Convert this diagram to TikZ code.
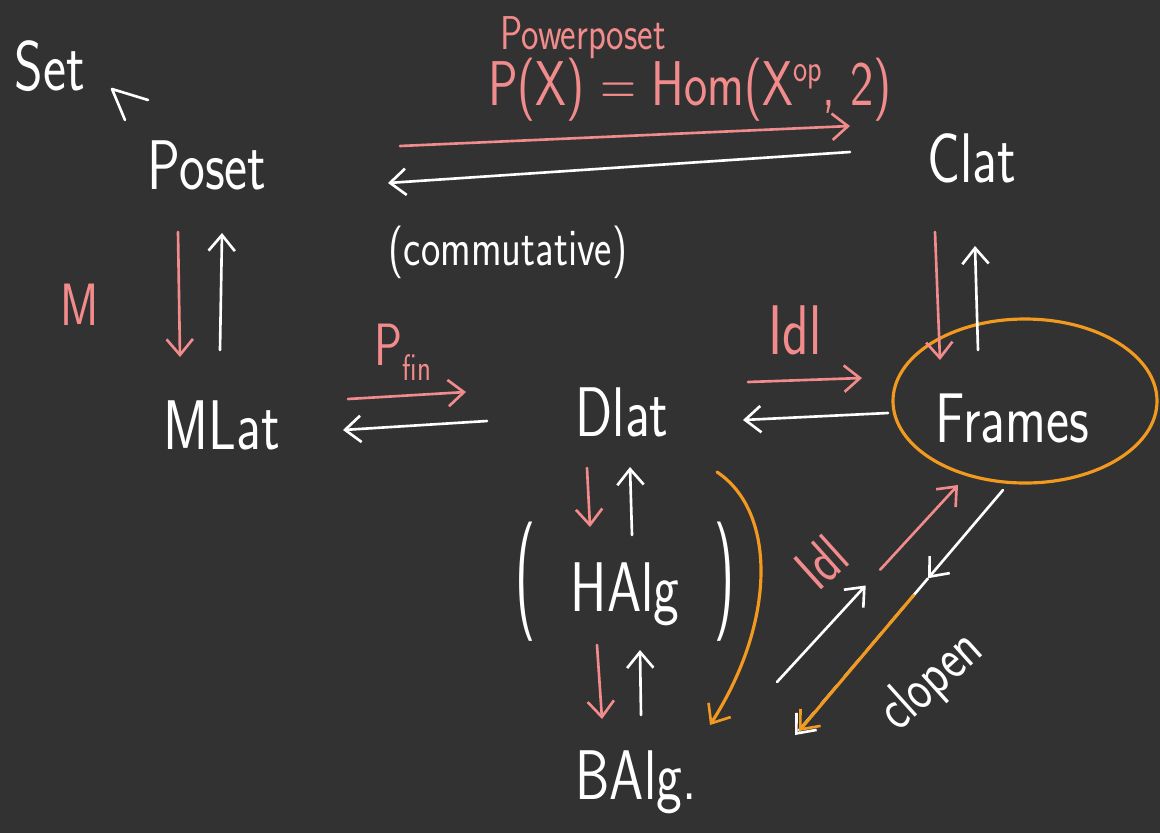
\documentclass[tikz,border=0pt]{standalone}
\usepackage{fontspec}
\usetikzlibrary{arrows.meta,calc}
\newfontfamily\hand{Latin Modern Sans}[FakeStretch=0.78]
\definecolor{board}{HTML}{323232}
\definecolor{chalkpink}{HTML}{F28C8C}
\definecolor{chalkorange}{HTML}{F29A1F}
\tikzset{
  obj/.style={text=white,inner sep=0pt,font=\hand\fontsize{40}{44}\selectfont},
  lbl/.style={inner sep=0pt,font=\hand\fontsize{34}{38}\selectfont},
  small/.style={inner sep=0pt,font=\hand\fontsize{27}{30}\selectfont},
  tip/.style={-{Straight Barb[length=9pt,width=15pt,line width=1.5pt]}},
  wa/.style={draw=white,line width=1.5pt,line cap=round,tip},
  pa/.style={draw=chalkpink,line width=1.5pt,line cap=round,tip},
  oa/.style={draw=chalkorange,line width=1.8pt,line cap=round,tip},
}
\begin{document}
\begin{tikzpicture}[x=0.02cm,y=-0.02cm]
  \fill[board] (0,0) rectangle (1160,833);
  \useasboundingbox (0,0) rectangle (1160,833);

  % objects
  \node[obj] (Set)    at (50,66)   {Set};
  \node[obj] (Poset)  at (207,165) {Poset};
  \node[obj] (Clat)   at (972,158) {Clat};
  \node[obj] (MLat)   at (222,425) {MLat};
  \node[obj] (Dlat)   at (622,412) {Dlat};
  \node[obj] (Frames) at (1012,418) {Frames};
  \node[obj] (HAlg)   at (625,582) {\scalebox{1}[1.7]{(}\,\,\,HAlg\,\,\,\scalebox{1}[1.7]{)}};
  \node[obj] (BAlg)   at (636,782) {BAlg.};

  % circled Frames
  \draw[chalkorange,line width=1.8pt] ([shift={(13,-17)}]Frames.center) ellipse [x radius=132,y radius=82];

  % forgetful arrowhead towards Set
  \draw[white,line width=1.5pt,line cap=round,line join=round]
    ([shift={(-82,-45)}]Poset.center) -- ([shift={(-95,-76)}]Poset.center) -- ([shift={(-59,-65)}]Poset.center);

  % labels
  \node[small,text=chalkpink] (pp) at (583,38) {Powerposet};
  \node[lbl,text=chalkpink,font=\hand\fontsize{36}{40}\selectfont] (hom) at (690,90)
    {P(X) = Hom(X\raisebox{.9ex}{\fontsize{22}{24}\selectfont op}, 2)};
  \node[small,text=white,font=\hand\fontsize{30}{34}\selectfont] (comm) at (508,252) {(commutative)};
  \node[lbl,text=chalkpink] (M) at (80,305) {M};
  \node[lbl,text=chalkpink] (pfin) at (403,352) {P\raisebox{-.6ex}{\fontsize{21}{24}\selectfont fin}};
  \node[lbl,text=chalkpink,font=\hand\fontsize{40}{44}\selectfont] (idl1) at (795,330) {Idl};
  \node[lbl,text=chalkpink,rotate=42] (idl2) at (822,562) {Idl};
  \node[lbl,text=white,rotate=42] (clopen) at (932,682) {clopen};

  % Poset <-> Clat
  \draw[pa] ([shift={(193,-19)}]Poset.center) -- ([shift={(-122,-32)}]Clat.center);
  \draw[wa] ([shift={(-122,-6)}]Clat.center) -- ([shift={(181,18)}]Poset.center);

  % Poset <-> MLat
  \draw[pa] ([shift={(-29,67)}]Poset.center) -- ([shift={(-42,-68)}]MLat.center);
  \draw[wa] ([shift={(-2,-75)}]MLat.center) -- ([shift={(15,68)}]Poset.center);

  % Clat <-> Frames
  \draw[pa] ([shift={(-37,74)}]Clat.center) -- ([shift={(-72,-58)}]Frames.center);
  \draw[wa] ([shift={(-34,-68)}]Frames.center) -- ([shift={(3,88)}]Clat.center);

  % MLat <-> Dlat
  \draw[pa] ([shift={(126,-26)}]MLat.center) -- ([shift={(-156,-20)}]Dlat.center);
  \draw[wa] ([shift={(-135,9)}]Dlat.center) -- ([shift={(121,5)}]MLat.center);

  % Dlat <-> Frames
  \draw[pa] ([shift={(126,-30)}]Dlat.center) -- ([shift={(-150,-40)}]Frames.center);
  \draw[wa] ([shift={(-124,-5)}]Frames.center) -- ([shift={(121,8)}]Dlat.center);

  % Dlat <-> HAlg
  \draw[pa] ([shift={(-35,56)}]Dlat.center) -- ([shift={(-35,-55)}]HAlg.center);
  \draw[wa] ([shift={(7,-47)}]HAlg.center) -- ([shift={(8,55)}]Dlat.center);

  % HAlg <-> BAlg
  \draw[pa] ([shift={(-28,63)}]HAlg.center) -- ([shift={(-34,-63)}]BAlg.center);
  \draw[wa] ([shift={(5,-67)}]BAlg.center) -- ([shift={(15,68)}]HAlg.center);

  % Dlat -> BAlg (orange, curved)
  \draw[oa] ([shift={(95,60)}]Dlat.center)
    .. controls ([shift={(155,100)}]Dlat.center) and ([shift={(140,-160)}]BAlg.center)
    .. ([shift={(74,-57)}]BAlg.center);

  % Frames -> BAlg (clopen), with orange overlay
  \path ([shift={(-9,72)}]Frames.center) -- ([shift={(159,-47)}]BAlg.center)
    coordinate[pos=0] (c0) coordinate[pos=0.36] (cm) coordinate[pos=0.43] (co) coordinate[pos=1] (c1);
  \draw[wa] (c0) -- (cm);
  \draw[white,line width=1.5pt,dash pattern=on 14pt off 6pt,tip] (cm) -- (c1);
  \draw[oa] (co) -- ([shift={(4,-4)}]c1);

  % BAlg -> Frames (Idl)
  \path ([shift={(141,-100)}]BAlg.center) -- ([shift={(-54,67)}]Frames.center)
    coordinate[pos=0] (d0) coordinate[pos=0.49] (dm) coordinate[pos=0.57] (dp) coordinate[pos=1] (d1);
  \draw[wa] (d0) -- (dm);
  \draw[pa] (dp) -- (d1);
\end{tikzpicture}
\end{document}
